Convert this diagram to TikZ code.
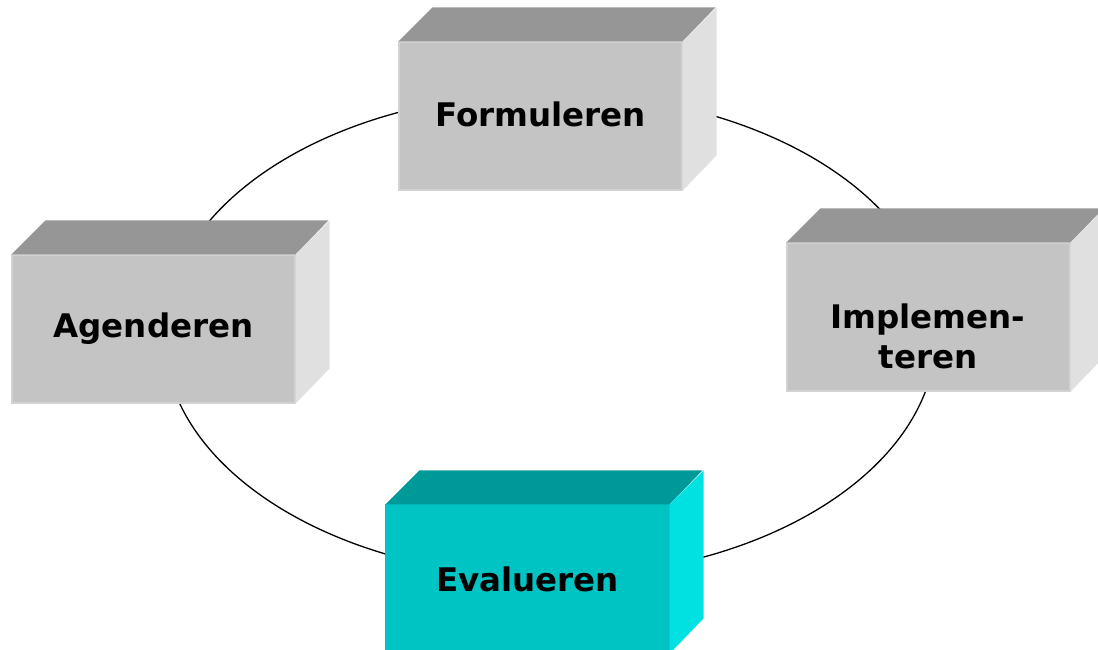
\documentclass[tikz,border=0pt]{standalone}
\usepackage{fontspec}
\setmainfont{DejaVu Sans}
\definecolor{greyfront}{HTML}{C4C4C4}
\definecolor{greytop}{HTML}{969696}
\definecolor{greyside}{HTML}{E0E0E0}
\definecolor{greyedge}{HTML}{D2D2D2}
\definecolor{tealfront}{HTML}{00C4C4}
\definecolor{tealtop}{HTML}{009999}
\definecolor{tealside}{HTML}{00E2E2}
\begin{document}
\begin{tikzpicture}[x=1pt,y=-1pt,
  face/.style={minimum width=283pt,minimum height=148pt,inner sep=0pt,line width=1.2pt},
  greybox/.style={face,fill=greyfront,draw=greyedge},
  tealbox/.style={face,fill=tealfront,draw=tealfront},
  label/.style={font=\fontsize{32.5}{40}\selectfont\bfseries,align=center,inner sep=0pt},
  cycleline/.style={line width=1.3pt,black}]
\useasboundingbox (0,0) rectangle (1098,649);

% the policy cycle
\coordinate (centre) at (550,335);
\draw[cycleline] (centre) ellipse [x radius=386, y radius=242];

% front faces
\node[greybox] (form) at (540.5,116) {};
\node[greybox] (impl) at (928.5,317) {};
\node[tealbox] (eval) at (527.5,579) {};
\node[greybox] (agen) at (153.5,329) {};

% top and side faces of each block
\foreach \b/\t/\s in {form/greytop/greyside, impl/greytop/greyside, agen/greytop/greyside, eval/tealtop/tealside}{
  \fill[\t] (\b.north west) -- ++(34,-34) -- ++(283,0) -- (\b.north east) -- cycle;
  \fill[\s] (\b.north east) -- ++(34,-34) -- ++(0,148) -- (\b.south east) -- cycle;
}

% labels
\node[label] (lform) at ([yshift=2pt]form.center) {Formuleren};
\node[label] (limpl) at (928,336) {Implemen-\\teren};
\node[label] (leval) at (eval) {Evalueren};
\node[label] (lagen) at (agen) {Agenderen};
\end{tikzpicture}
\end{document}
